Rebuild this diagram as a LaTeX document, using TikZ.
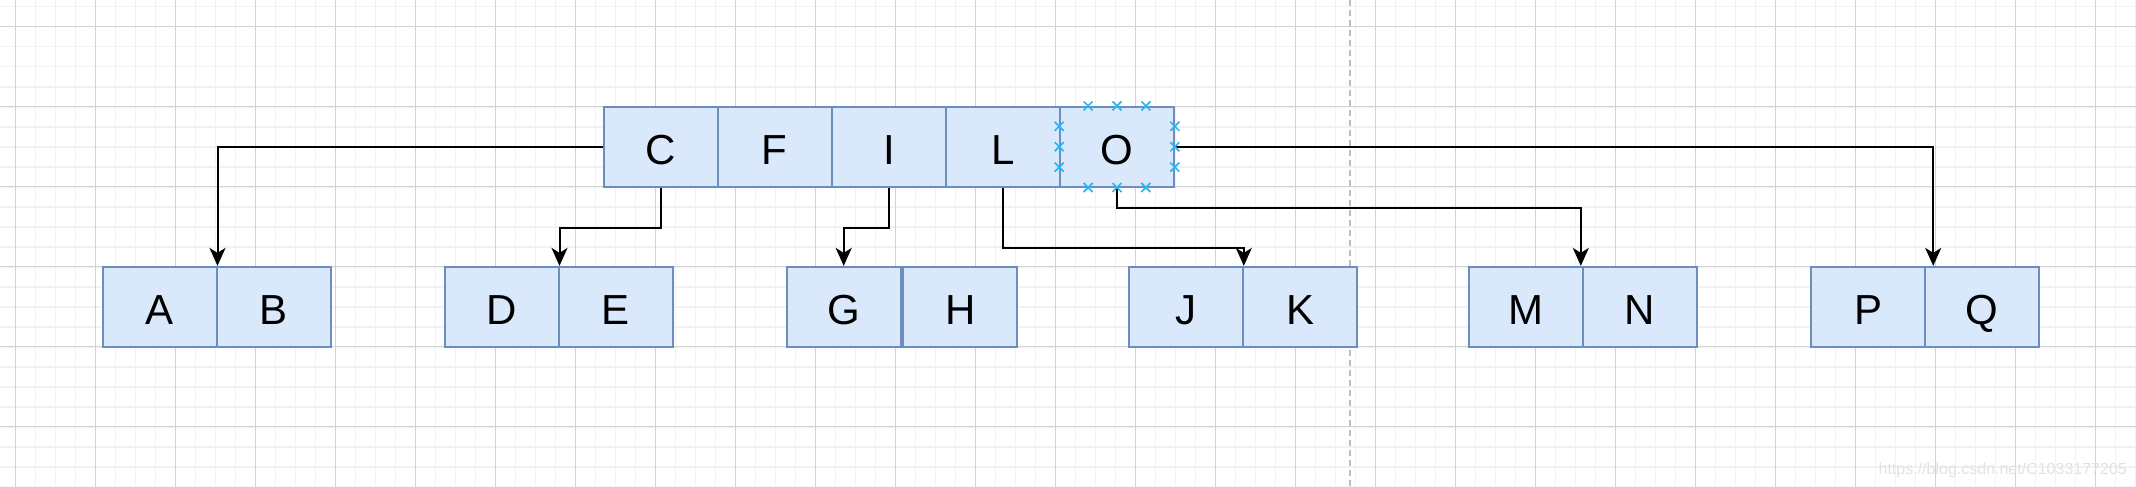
\documentclass[tikz,border=0pt]{standalone}
\usepackage{fontspec}
\setmainfont{Liberation Sans}
\usetikzlibrary{arrows.meta,calc}
\definecolor{cellfill}{HTML}{DAE8FC}
\definecolor{cellline}{HTML}{6C8EBF}
\definecolor{minorgrid}{HTML}{F2F2F2}
\definecolor{majorgrid}{HTML}{D3D3D3}
\definecolor{hint}{HTML}{29B6F2}
\definecolor{wmark}{HTML}{E2E2E2}
\definecolor{guide}{HTML}{BDBDBD}
\begin{document}
\begin{tikzpicture}[x=1pt,y=-1pt,
  cell/.style={draw=cellline, fill=cellfill, line width=1.6pt,
    minimum width=114pt, minimum height=80pt, inner sep=0pt,
    text height=35pt, text depth=0pt,
    font=\fontsize{42}{50}\selectfont},
  link/.style={draw=black, line width=2pt,
    -{Stealth[length=18pt,width=16pt,inset=5pt]}},
  minorline/.style={draw=minorgrid, line width=1.6pt},
  majorline/.style={draw=majorgrid, line width=0.8pt},
  xmark/.pic={\draw[hint, line width=1.7pt] (-4.5,-4.5) -- (4.5,4.5) (-4.5,4.5) -- (4.5,-4.5);}
]
\fill[white] (0,0) rectangle (2136,487);
\useasboundingbox (0,0) rectangle (2136,487);
% grid
\foreach \k in {0,...,108} {\draw[minorline] ({-4.7+20*\k},0) -- ++(0,487);}
\foreach \k in {0,...,24} {\draw[minorline] (0,{6.7+20*\k}) -- ++(2136,0);}
\foreach \k in {0,...,26} {\draw[majorline] ({15.3+80*\k},0) -- ++(0,487);}
\foreach \k in {0,...,5} {\draw[majorline] (0,{26.7+80*\k}) -- ++(2136,0);}
% guide
\coordinate (gtop) at (1350,0);
\coordinate (gbot) at (1350,487);
\draw[guide, line width=1.8pt, dash pattern=on 6pt off 4pt] (gtop) -- (gbot);
% top node
\node[cell] (C) at (660.7,146.7) {C};
\node[cell] (F) at (774.8,146.7) {F};
\node[cell] (I) at (888.9,146.7) {I};
\node[cell] (L) at (1002.9,146.7) {L};
\node[cell] (O) at (1117,146.7) {O};
% leaves
\node[cell] (A) at (159.7,306.7) {A};
\node[cell] (B) at (273.8,306.7) {B};
\node[cell] (D) at (501.7,306.7) {D};
\node[cell] (E) at (615.8,306.7) {E};
\node[cell] (G) at (843.7,306.7) {G};
\node[cell] (H) at (960.2,306.7) {H};
\node[cell] (J) at (1186,306.7) {J};
\node[cell] (K) at (1300.2,306.7) {K};
\node[cell] (M) at (1526,306.7) {M};
\node[cell] (N) at (1640,306.7) {N};
\node[cell] (P) at (1868,306.7) {P};
\node[cell] (Q) at (1982,306.7) {Q};
% connectors
\draw[link] (C.west) -| (A.north east);
\draw[link] (C.south) -- ++(0,40) -| (D.north east);
\draw[link] (I.south) -- ++(0,40) -| (G.north);
\draw[link] (L.south) -- ++(0,60) -| (J.north east);
\draw[link] (O.south) -- ++(0,20) -| ($(M.north east)+(-3,0)$);
\draw[link] (O.east) -| ($(Q.north west)+(9,0)$);
% connection hints on O
\foreach \f in {0.25,0.5,0.75} {
  \pic at ($(O.north west)!\f!(O.north east)$) {xmark};
  \pic at ($(O.south west)!\f!(O.south east)$) {xmark};
  \pic at ($(O.north west)!\f!(O.south west)$) {xmark};
  \pic at ($(O.north east)!\f!(O.south east)$) {xmark};
}
% watermark
\node[anchor=base east, text=wmark, inner sep=0pt, font=\fontsize{16}{18}\selectfont] (wm) at (2127,474) {https://blog.csdn.net/C1033177205};
\end{tikzpicture}
\end{document}
